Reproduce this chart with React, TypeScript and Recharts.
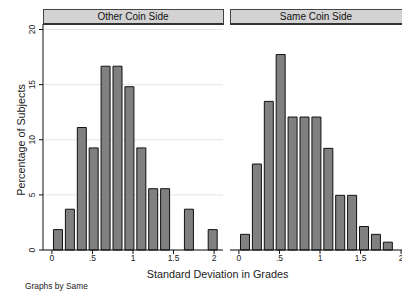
import React from 'react';
import { BarChart, Bar, XAxis, YAxis, CartesianGrid } from 'recharts';

// bin midpoints (standard deviation in grades)
const binCenters = [0.08, 0.227, 0.374, 0.52, 0.667, 0.814, 0.961, 1.108, 1.254, 1.401, 1.548, 1.695, 1.842, 1.988];

// percentage of subjects per bin
const otherSide = [1.85, 3.7, 11.11, 9.26, 16.67, 16.67, 14.81, 9.26, 5.56, 5.56, 0, 3.7, 0, 1.85];
const sameSide = [1.42, 7.8, 13.48, 17.73, 12.06, 12.06, 12.06, 9.22, 4.96, 4.96, 2.13, 1.42, 0.71];

const xTicks = [0, 0.5, 1, 1.5, 2];
const xTickLabels = ['0', '.5', '1', '1.5', '2'];
const yTicks = [0, 5, 10, 15, 20];
const panelTitles = ['Other Coin Side', 'Same Coin Side'];

const FONT = '"Liberation Sans", Arial, Helvetica, sans-serif';
const X_DOMAIN: [number, number] = [-0.11, 2.11];
const Y_DOMAIN: [number, number] = [0, 20.5];

const toRows = (vals: number[]) => vals.map((v, i) => ({ x: binCenters[i], pct: v }));

const RotatedTick = (props: any) => {
  const { x, y, payload } = props;
  const bx = x - 2;
  return (
    <text x={bx} y={y} transform={`rotate(-90 ${bx} ${y})`} textAnchor="middle" fontSize={8.5} fill="#222">
      {payload.value}
    </text>
  );
};

const fmtX = (v: number) => xTickLabels[xTicks.indexOf(v)] ?? String(v);

interface PanelProps {
  values: number[];
  first: boolean;
}

const Panel: React.FC<PanelProps> = ({ values, first }) => {
  const data = toRows(values);
  return (
    <BarChart
      width={first ? 224 : 181}
      height={294}
      data={data}
      margin={{ top: 24, right: first ? 1 : 0, bottom: 0, left: first ? 0 : 1 }}
      barSize={9}
    >
      <CartesianGrid vertical={false} stroke="#e6e6e6" />
      <XAxis
        dataKey="x"
        type="number"
        domain={X_DOMAIN}
        ticks={xTicks}
        tickFormatter={fmtX}
        height={44}
        tickSize={4}
        tickMargin={1}
        interval={0}
        axisLine={{ stroke: '#111' }}
        tickLine={{ stroke: '#111' }}
        tick={{ fontSize: 8.5, fill: '#222' }}
      />
      <YAxis
        domain={Y_DOMAIN}
        ticks={yTicks}
        width={first ? 43 : 0}
        tickSize={first ? 4 : 0}
        tick={first ? <RotatedTick /> : false}
        axisLine={{ stroke: first ? '#111' : '#777' }}
        tickLine={{ stroke: '#111' }}
        interval={0}
      />
      {first && (
        <YAxis
          yAxisId="edge"
          orientation="right"
          domain={Y_DOMAIN}
          width={0}
          tick={false}
          tickLine={false}
          axisLine={{ stroke: '#222' }}
        />
      )}
      <Bar dataKey="pct" fill="#808080" stroke="#111" strokeWidth={1} isAnimationActive={false} />
    </BarChart>
  );
};

const Header: React.FC<{ title: string; left: number; width: number }> = ({ title, left, width }) => (
  <div
    style={{
      position: 'absolute',
      left,
      top: 9,
      width,
      height: 16,
      boxSizing: 'border-box',
      background: '#d3d3d3',
      borderTop: '1px solid #444',
      borderLeft: '1px solid #444',
      borderRight: '1px solid #444',
      borderBottom: '2px solid #333',
      fontSize: 10,
      lineHeight: '13px',
      textAlign: 'center',
      color: '#111',
    }}
  >
    {title}
  </div>
);

export default function App() {
  return (
    <div
      style={{
        position: 'absolute',
        left: 0,
        top: 0,
        width: 402,
        height: 294,
        overflow: 'hidden',
        background: '#fff',
        fontFamily: FONT,
      }}
    >
      <div style={{ position: 'absolute', left: 0, top: 0 }}>
        <Panel values={otherSide} first />
      </div>
      <div style={{ position: 'absolute', left: 229, top: 0 }}>
        <Panel values={sameSide} first={false} />
      </div>
      <Header title={panelTitles[0]} left={42.5} width={181} />
      <Header title={panelTitles[1]} left={229.5} width={173} />
      <div
        style={{
          position: 'absolute',
          left: 21,
          top: 140,
          transform: 'translate(-50%, -50%) rotate(-90deg)',
          whiteSpace: 'nowrap',
          fontSize: 10.8,
          color: '#222',
        }}
      >
        Percentage of Subjects
      </div>
      <div
        style={{
          position: 'absolute',
          left: 217.5,
          top: 274,
          transform: 'translate(-50%, -50%)',
          whiteSpace: 'nowrap',
          fontSize: 10.8,
          color: '#222',
        }}
      >
        Standard Deviation in Grades
      </div>
      <div style={{ position: 'absolute', left: 25, top: 281, fontSize: 8.4, color: '#222', whiteSpace: 'nowrap' }}>
        Graphs by Same
      </div>
    </div>
  );
}
